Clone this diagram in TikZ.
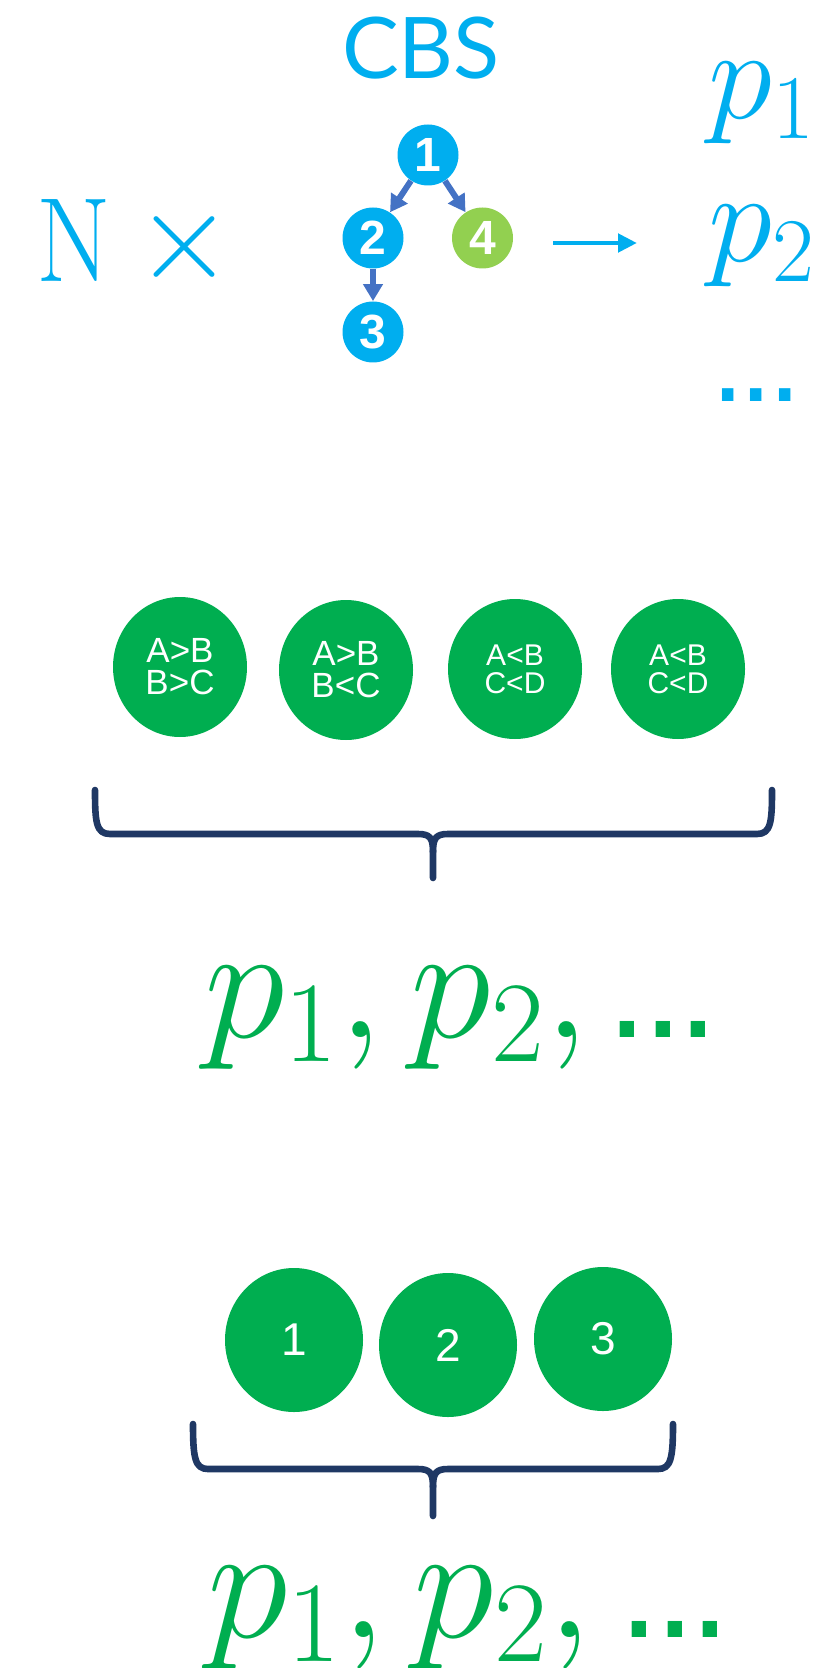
\documentclass[tikz,border=0pt]{standalone}
\usepackage{fix-cm}
\usepackage{fontspec}
\usepackage{graphicx}
\usetikzlibrary{shapes.geometric,arrows.meta}
\newfontfamily\sansA{Liberation Sans}
\newfontfamily\cbsfont{Lato}
\definecolor{cbsblue}{HTML}{00AEEF}
\definecolor{lgreen}{HTML}{92D050}
\definecolor{arrowblue}{HTML}{4472C4}
\definecolor{dgreen}{HTML}{00AE50}
\definecolor{navy}{HTML}{1F3864}
\tikzset{
  treenode/.style={circle, fill=cbsblue, minimum size=30.5pt, inner sep=0pt, text=white,
    font=\sansA\bfseries\fontsize{24}{24}\selectfont},
  treeleaf/.style={treenode, fill=lgreen},
  treearrow/.style={draw=arrowblue, line width=3pt, -{Triangle[length=8.5pt,width=9.5pt]}},
  bigarrow/.style={draw=cbsblue, line width=2.4pt, -{Triangle[length=9.5pt,width=9pt]}},
  pillA/.style={ellipse, fill=dgreen, inner sep=0pt, minimum width=67pt, minimum height=70pt,
    text=white, align=center, font=\sansA\fontsize{17.5}{16}\selectfont},
  pillB/.style={pillA, font=\sansA\fontsize{15}{14}\selectfont},
  numball/.style={ellipse, fill=dgreen, inner sep=0pt, minimum width=69pt, minimum height=72pt,
    text=white, font=\sansA\fontsize{23}{23}\selectfont},
  brace/.style={draw=navy, line width=3.3pt, line cap=round, line join=round},
  bigmath/.style={inner sep=0pt, anchor=base west, text=dgreen, font=\fontsize{82}{90}\selectfont},
  cyanmath/.style={inner sep=0pt, anchor=base west, text=cbsblue, font=\fontsize{65}{70}\selectfont},
}
\begin{document}
\begin{tikzpicture}[x=0.5pt,y=-0.5pt]
\useasboundingbox (0,0) rectangle (815,1668);

% ---- top: CBS tree ----
\node[text=cbsblue, inner sep=0pt, font=\cbsfont\fontsize{42.5}{43}\selectfont] (cbs) at (421,48) {CBS};
\node[text=cbsblue, inner sep=0pt, font=\rmfamily\fontsize{60}{60}\selectfont] (nn) at (74,241) {\scalebox{0.9}[1]{N}};
\node[text=cbsblue, inner sep=0pt, font=\fontsize{63}{63}\selectfont] (times) at (184,247) {$\times$};

\node[treenode] (t1) at (428,155) {1};
\node[treenode] (t2) at (373,238) {2};
\node[treeleaf] (t4) at (482.5,238) {4};
\node[treenode] (t3) at (373,332) {3};
\draw[treearrow] (t1) -- (t2);
\draw[treearrow] (t1) -- (t4);
\draw[treearrow] (t2) -- (t3);

\coordinate (arrS) at (553,243);
\coordinate (arrE) at (637,243);
\draw[bigarrow] (arrS) -- (arrE);

\node[cyanmath] (cp1) at (708,119) {$p_1$};
\node[cyanmath] (cp2) at (708,262) {$p_2$};
\node[inner sep=0pt, anchor=base west, text=cbsblue, font=\sansA\fontsize{60}{60}\selectfont] (cdots) at (711,402) {.\kern-2.5pt.\kern-2.5pt.};

% ---- middle: four comparison balls ----
\node[pillA] (c1) at (180,667) {A>B\\B>C};
\node[pillA] (c2) at (346,670) {A>B\\B<C};
\node[pillB] (c3) at (515,669) {A<B\\C<D};
\node[pillB] (c4) at (678,669) {A<B\\C<D};

\draw[brace] (95,790) .. controls (95,822) and (96,834) .. (110,834) -- (418,834)
  .. controls (430,834) and (433,838) .. (433,852) -- (433,878);
\draw[brace] (772,790) .. controls (772,822) and (771,834) .. (757,834) -- (448,834)
  .. controls (436,834) and (433,838) .. (433,852);

\node[bigmath] (gtext1) at (204,1037) {$p_1,p_2,$\hspace{8.5pt}{\sansA\fontsize{75}{75}\selectfont.\kern-3pt.\kern-3pt.}};

% ---- bottom: three numbered balls ----
\node[numball] (b1) at (294,1340) {1};
\node[numball] (b2) at (448,1345) {2};
\node[numball] (b3) at (603,1339) {3};

\draw[brace] (193,1424) .. controls (193,1458) and (195,1469) .. (208,1469) -- (418,1469)
  .. controls (430,1469) and (433,1473) .. (433,1487) -- (433,1516);
\draw[brace] (673,1424) .. controls (673,1458) and (671,1469) .. (658,1469) -- (448,1469)
  .. controls (436,1469) and (433,1473) .. (433,1487);

\node[bigmath] (gtext2) at (207,1637) {$p_1,p_2,$\hspace{13pt}{\sansA\fontsize{75}{75}\selectfont.\kern-3pt.\kern-3pt.}};
\end{tikzpicture}
\end{document}
